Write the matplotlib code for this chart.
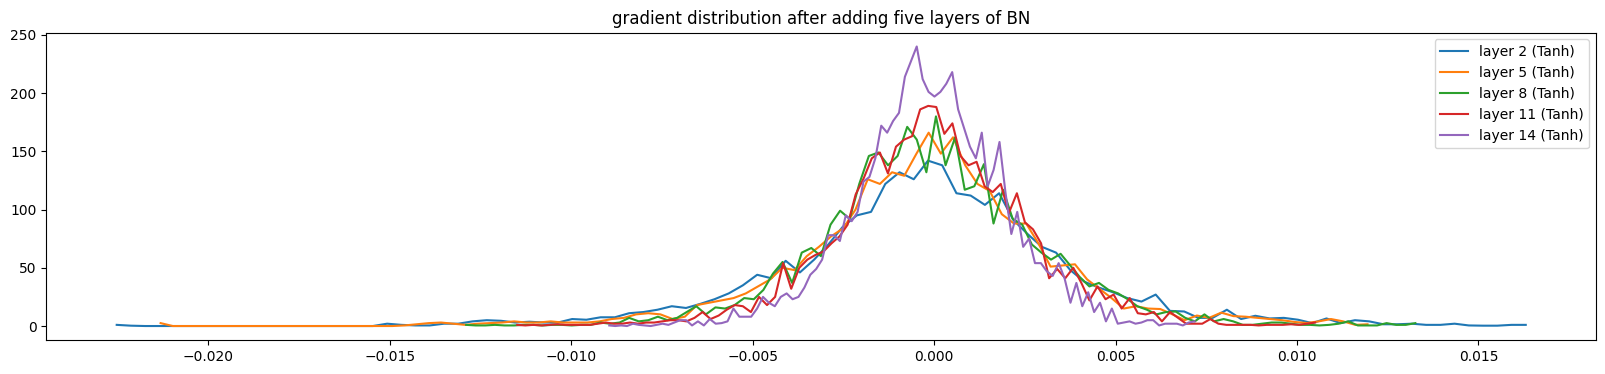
import matplotlib
matplotlib.use('Agg')
import matplotlib.pyplot as plt
import numpy as np

# histogram of gradients per Tanh layer (density, 100 bins)
layers = ['layer 2 (Tanh)', 'layer 5 (Tanh)', 'layer 8 (Tanh)', 'layer 11 (Tanh)', 'layer 14 (Tanh)']

# left bin edge of first and last bin for each layer
lo = [-0.02252, -0.02131, -0.012892, -0.011486, -0.008949]
hi = [0.016302, 0.011943, 0.013261, 0.010498, 0.007179]

h2 = [1, 0.3] + [0] * 17 + [
    2, 1, 0.5, 0.5, 2, 2, 4, 5, 4.5, 3, 3.7, 3, 3, 6, 5.4, 7.5, 7.5, 11, 12, 14,
    17, 15.5, 19, 23, 28, 35, 44, 41, 56, 46, 57, 70, 85, 95, 98, 122, 132, 126, 142, 138,
    114, 112, 104, 114, 91, 79, 68, 63, 48, 38, 33, 29, 24, 21, 27, 13, 12.5, 7, 7, 14,
    6, 8.8, 6.5, 7, 5.4, 2.5, 6.5, 2.5, 5, 4, 1.5, 1.5, 2, 1, 1, 2, 0.5, 0.3, 0.3, 1, 1]

h5 = [2.5] + [0] * 19 + [
    0.5, 1.5, 2.5, 3, 2, 1, 2, 2.5, 3, 4, 3, 3, 4, 3, 3, 3, 4, 6, 7, 10,
    11, 10, 6, 8, 18, 20, 22, 24, 28, 34, 40, 50, 48, 60, 68, 77, 84, 100, 126, 122,
    132, 129, 148, 166, 148, 162, 138, 122, 116, 96, 88, 88, 71, 51, 52, 53, 40, 32, 24, 15,
    17, 15, 14.6, 10, 5, 9, 7, 11.5, 8.5, 8, 7, 6, 5, 3.5, 2.6, 4, 6, 4, 1, 1.5]

h8 = [
    1, 0.5, 0.5, 1, 0.5, 0.5, 1, 1, 0.5, 1, 1, 0.5, 1, 1, 3, 2, 3, 7, 4, 5,
    8, 5, 7, 12, 17, 10, 16, 15, 18, 24, 23, 31, 45, 55, 37, 63, 67, 60, 87, 99,
    92, 122, 146, 149, 138, 146, 171, 160, 132, 180, 138, 162, 117, 120, 139, 88, 117, 92, 87, 70,
    63, 57, 62, 52, 42, 34, 37, 31, 28, 23, 17, 14, 10, 12, 12.5, 7, 4, 10, 4, 6,
    4, 1, 1, 2, 3, 3, 2, 1, 1, 0.5, 1, 2, 4, 0.5, 0.5, 0.5, 2.5, 1, 1, 2.5]

h11 = [
    1, 0.5, 1, 0.5, 1, 1.5, 1, 1, 1, 1, 2, 3, 2, 2, 3, 2, 3, 3, 4, 5,
    5, 4, 7, 12, 6, 9, 14, 18, 17, 12, 25, 18, 25, 54, 32, 50, 57, 61, 64, 71,
    77, 87, 113, 127, 144, 149, 131, 154, 160, 163, 186, 189, 188, 165, 174, 146, 138, 141, 120, 115,
    122, 97, 114, 89, 83, 71, 41, 49, 41, 50, 37, 22, 34, 23, 27, 15, 24, 11, 10, 12,
    4, 12, 7, 2, 2, 2, 6, 2, 1, 1, 1, 1, 0.5, 1, 1, 1, 1.5, 1, 2, 3]

h14 = [
    0.5, 0, 0.5, 0, 2, 1, 0.5, 0, 1, 2, 1, 3, 5, 5, 0.5, 4, 0.5, 6, 2, 2.5,
    4, 15, 8, 8, 8, 15, 25, 20, 17, 25, 28, 23, 25, 33, 44, 49, 57, 78, 78, 73,
    95, 90, 98, 124, 128, 144, 172, 166, 176, 183, 214, 227, 240, 212, 201, 197, 201, 208, 218, 186,
    170, 154, 144, 166, 120, 134, 158, 115, 79, 98, 68, 75, 54, 54, 47, 43, 54, 41, 20, 37,
    17, 29, 12, 20, 4, 15, 2, 3, 4, 2, 3, 5, 5, 0.5, 2, 2, 2, 0.5, 3, 4]

hists = [h2, h5, h8, h11, h14]

fig = plt.figure(figsize=(16.06, 3.74), dpi=100)
ax = fig.add_axes([0.0288, 0.0909, 0.9651, 0.8222])
for name, a, b, hy in zip(layers, lo, hi, hists):
    hx = np.linspace(a, b, len(hy))
    ax.plot(hx, hy, label=name)
ax.legend()
ax.set_title('gradient distribution after adding five layers of BN')

fig.savefig('out.png', dpi=100)
